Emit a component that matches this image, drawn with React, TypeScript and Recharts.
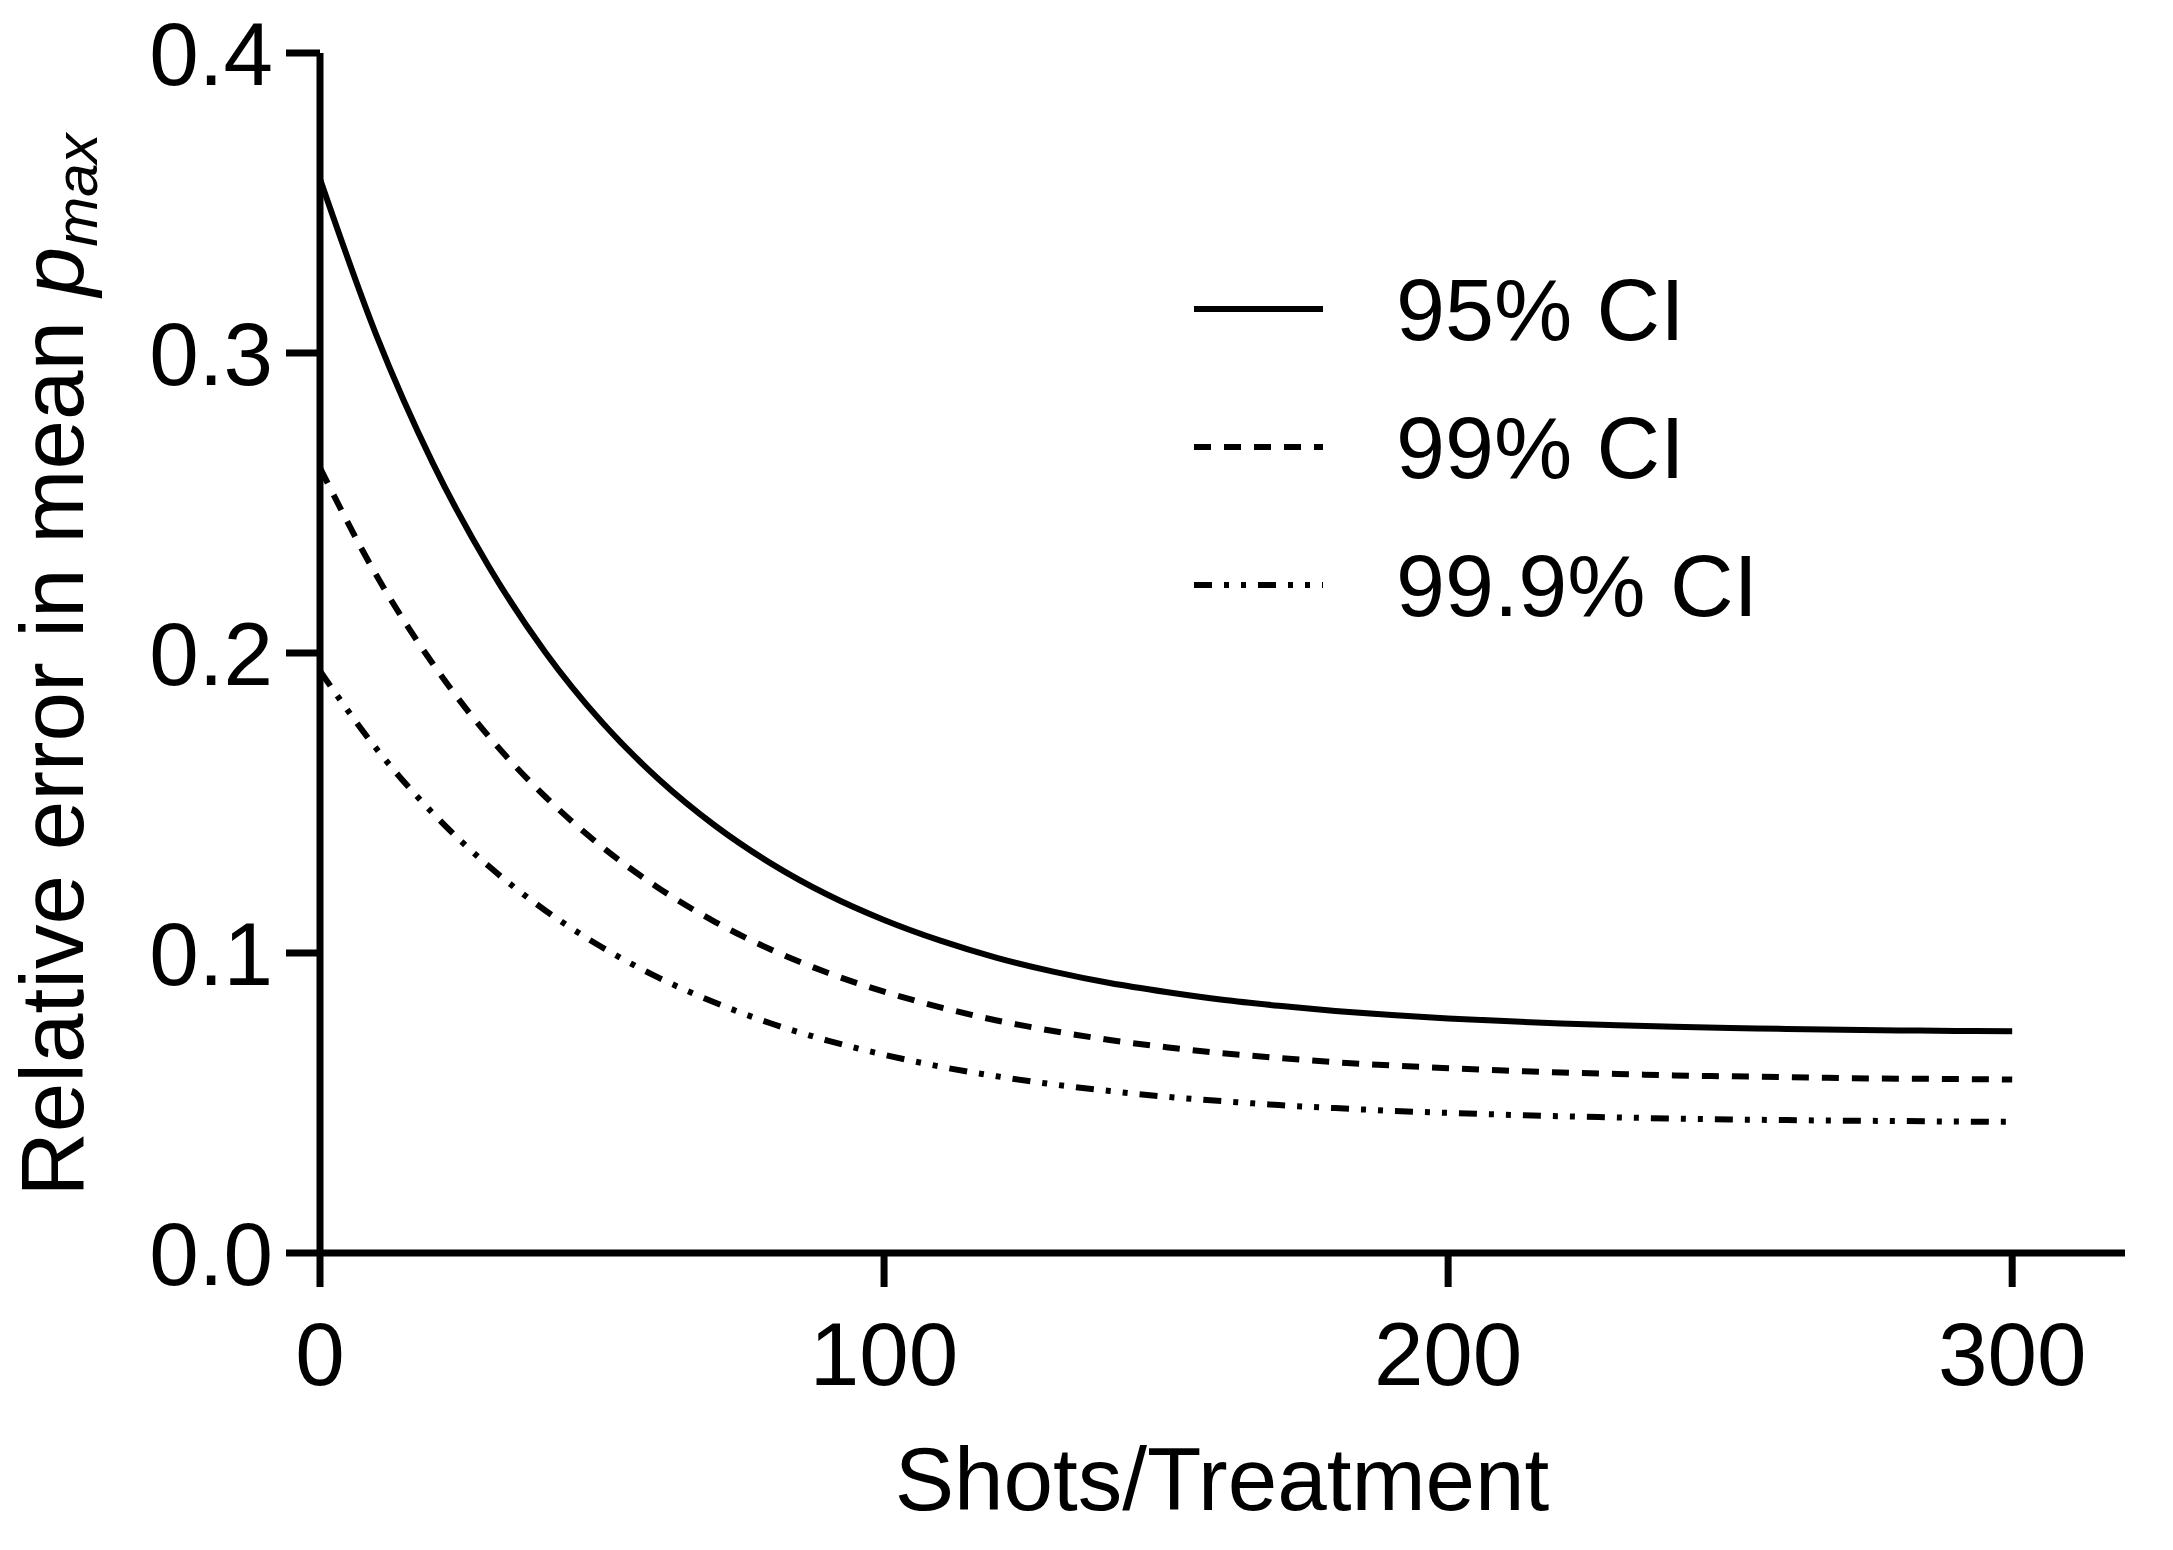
import React from 'react';
import { LineChart, Line, XAxis, YAxis, Legend, Label } from 'recharts';

const shots = [0, 10, 20, 30, 40, 50, 60, 70, 80, 90, 100, 110, 120, 130, 140, 150, 160, 170, 180, 190, 200, 210, 220, 230, 240, 250, 260, 270, 280, 290, 300];
const ci95 = [0.358, 0.3059, 0.2633, 0.2286, 0.2001, 0.1769, 0.158, 0.1425, 0.1298, 0.1194, 0.111, 0.1041, 0.0984, 0.0938, 0.09, 0.087, 0.0844, 0.0824, 0.0807, 0.0793, 0.0782, 0.0773, 0.0765, 0.0759, 0.0754, 0.075, 0.0747, 0.0744, 0.0742, 0.074, 0.0739];
const ci99 = [0.2617, 0.2259, 0.1964, 0.172, 0.152, 0.1354, 0.1217, 0.1104, 0.1011, 0.0934, 0.0871, 0.0819, 0.0775, 0.074, 0.071, 0.0686, 0.0666, 0.065, 0.0636, 0.0625, 0.0616, 0.0608, 0.0602, 0.0597, 0.0592, 0.0589, 0.0586, 0.0583, 0.0581, 0.058, 0.0578];
const ci999 = [0.194, 0.1681, 0.1466, 0.1288, 0.1141, 0.1019, 0.0918, 0.0835, 0.0765, 0.0708, 0.0661, 0.0621, 0.0589, 0.0562, 0.054, 0.0521, 0.0506, 0.0493, 0.0483, 0.0474, 0.0467, 0.0461, 0.0456, 0.0452, 0.0448, 0.0445, 0.0443, 0.0441, 0.044, 0.0438, 0.0437];

const xTicks = [0, 100, 200, 300];
const yTicks = [0, 0.1, 0.2, 0.3, 0.4];
const seriesNames = ['95% CI', '99% CI', '99.9% CI'];
const xTitle = 'Shots/Treatment';
const yTitleMain = 'Relative error in mean ';

const data = shots.map((s, i) => ({ shots: s, ci95: ci95[i], ci99: ci99[i], ci999: ci999[i] }));

const series = [
  { key: 'ci95', name: seriesNames[0], dash: undefined as string | undefined },
  { key: 'ci99', name: seriesNames[1], dash: '17 13' },
  { key: 'ci999', name: seriesNames[2], dash: '18 12 5 12 5 12' },
];

const FONT = '"Liberation Sans", Arial, Helvetica, sans-serif';

const renderLegend = (props: any) => {
  const payload = props.payload || [];
  return (
    <svg width={640} height={400} style={{ display: 'block' }}>
      {payload.map((entry: any, i: number) => {
        const s = series.find((x) => x.key === entry.dataKey) || series[i];
        const y = 59 + i * 138;
        return (
          <g key={s.key}>
            <line x1={14} x2={143} y1={y} y2={y} stroke="#000" strokeWidth={6} strokeDasharray={s.dash} />
            <text x={216} y={y} dy="0.355em" fontSize={88} fontFamily={FONT} fill="#000">
              {entry.value}
            </text>
          </g>
        );
      })}
    </svg>
  );
};

const YTitle = (props: any) => {
  const cx = 83;
  const cy = 665;
  return (
    <text
      x={cx}
      y={cy}
      transform={`rotate(-90, ${cx}, ${cy})`}
      textAnchor="middle"
      fontSize={89}
      fontFamily={FONT}
      fill="#000"
    >
      {yTitleMain}
      <tspan fontStyle="italic">p</tspan>
      <tspan fontStyle="italic" fontSize={60} dy={14}>max</tspan>
    </text>
  );
};

const XTitle = (props: any) => (
  <text x={1222} y={1510} textAnchor="middle" fontSize={89} fontFamily={FONT} fill="#000">
    {xTitle}
  </text>
);

export default function App() {
  return (
    <div style={{ position: 'absolute', left: 0, top: 0, width: 2173, height: 1550, background: '#fff' }}>
      <LineChart
        width={2173}
        height={1550}
        data={data}
        margin={{ top: 53, right: 48, bottom: 0, left: 0 }}
        style={{ fontFamily: FONT }}
      >
        <XAxis
          dataKey="shots"
          type="number"
          domain={[0, 320]}
          ticks={xTicks}
          height={297}
          tickSize={34}
          tickMargin={35}
          axisLine={{ stroke: '#000', strokeWidth: 7 }}
          tickLine={{ stroke: '#000', strokeWidth: 7 }}
          tick={{ fontSize: 89, fill: '#000', fontFamily: FONT }}
          interval={0}
        >
          <Label content={<XTitle />} />
        </XAxis>
        <YAxis
          type="number"
          domain={[0, 0.4]}
          ticks={yTicks}
          width={320}
          tickSize={34}
          tickMargin={13}
          axisLine={{ stroke: '#000', strokeWidth: 7 }}
          tickLine={{ stroke: '#000', strokeWidth: 7 }}
          tick={{ fontSize: 89, fill: '#000', fontFamily: FONT }}
          tickFormatter={(v: number) => v.toFixed(1)}
          interval={0}
        >
          <Label content={<YTitle />} />
        </YAxis>
        <Legend
          layout="vertical"
          align="center"
          verticalAlign="middle"
          content={renderLegend}
          wrapperStyle={{ position: 'absolute', left: 1180, top: 250, width: 640, height: 400 }}
        />
        {series.map((s) => (
          <Line
            key={s.key}
            type="monotone"
            dataKey={s.key}
            name={s.name}
            stroke="#000"
            strokeWidth={6}
            strokeDasharray={s.dash}
            dot={false}
            activeDot={false}
            isAnimationActive={false}
          />
        ))}
      </LineChart>
    </div>
  );
}
